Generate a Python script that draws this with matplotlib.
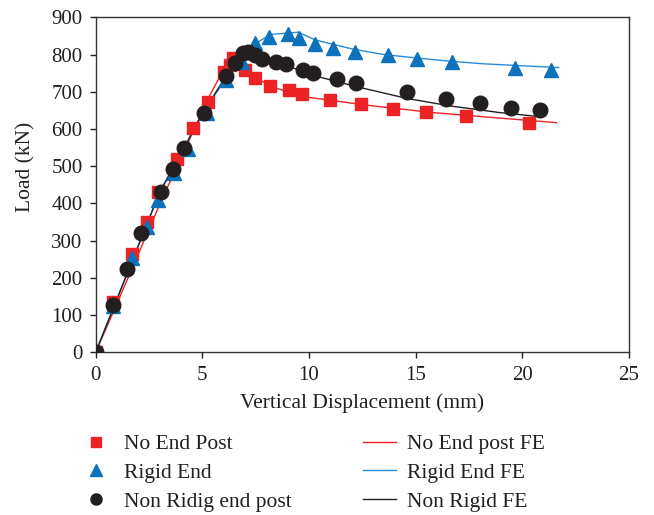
import matplotlib
matplotlib.use("Agg")
import matplotlib.pyplot as plt
from matplotlib.lines import Line2D

plt.rcParams['font.family'] = ['Liberation Serif', 'DejaVu Serif']

# Experimental data
no_end_x = [0, 0.83, 1.69, 2.39, 2.93, 3.8, 4.58, 5.28, 6.0, 6.3, 6.45, 6.6, 6.99, 7.47, 8.15, 9.08, 9.69, 10.98, 12.44, 13.95, 15.49, 17.35, 20.33]
no_end_y = [0, 136, 264, 351, 430, 518, 603, 673, 754, 772, 790, 787, 758, 736, 715, 704, 693, 678, 667, 654, 646, 635, 615]

rigid_x = [0, 0.83, 1.69, 2.39, 2.93, 3.69, 4.31, 5.2, 6.09, 6.87, 7.47, 8.14, 9.0, 9.52, 10.28, 11.14, 12.16, 13.69, 15.06, 16.69, 19.66, 21.35]
rigid_y = [0, 125, 254, 337, 409, 481, 545, 642, 732, 781, 832, 848, 855, 844, 827, 817, 808, 799, 788, 779, 763, 758]

nonrigid_x = [0, 0.83, 1.48, 2.12, 3.07, 3.64, 4.15, 5.06, 6.1, 6.52, 6.92, 7.15, 7.47, 7.78, 8.45, 8.92, 9.73, 10.2, 11.3, 12.2, 14.61, 16.41, 18.02, 19.47, 20.83]
nonrigid_y = [0, 127, 223, 320, 430, 492, 548, 643, 742, 778, 803, 808, 799, 787, 781, 775, 758, 750, 733, 723, 699, 681, 669, 657, 651]

# FE curves
no_end_fe_x = [0, 0.83, 3.09, 5.3, 6.0, 6.6, 7.0, 7.5, 8.2, 9.6, 12.7, 15.8, 19.0, 21.6]
no_end_fe_y = [0, 109, 409, 685, 760, 795, 765, 738, 715, 688, 664, 644, 629, 617]

rigid_fe_x = [0, 3.0, 5.1, 6.1, 7.0, 7.5, 8.2, 9.5, 10.3, 12.1, 13.5, 15.0, 16.6, 18.2, 21.7]
rigid_fe_y = [0, 430, 650, 735, 800, 830, 854, 860, 839, 814, 800, 791, 782, 775, 765]

nonrigid_fe_x = [0, 3.0, 5.0, 6.1, 6.5, 6.9, 7.1, 7.5, 8.5, 10.2, 12.2, 14.6, 16.6, 18.95, 20.83]
nonrigid_fe_y = [0, 430, 640, 742, 778, 800, 810, 800, 780, 744, 714, 682, 662, 644, 633]

xticks = [0, 5, 10, 15, 20, 25]
yticks = [0, 100, 200, 300, 400, 500, 600, 700, 800, 900]

RED = '#ED2224'
BLUE = '#0B72BB'
BLUE_L = '#2A8BD6'
BLACK = '#231F20'

fig = plt.figure(figsize=(6.54, 5.15), dpi=100)
ax = fig.add_axes([0.1463, 0.3159, 0.9618 - 0.1463, 0.9664 - 0.3159])

ax.plot(no_end_fe_x, no_end_fe_y, color=RED, lw=1.0, zorder=2)
ax.plot(rigid_fe_x, rigid_fe_y, color=BLUE_L, lw=1.0, zorder=2)
ax.plot(nonrigid_fe_x, nonrigid_fe_y, color=BLACK, lw=1.0, zorder=2)

ax.plot(no_end_x, no_end_y, ls='none', marker='s', ms=9, color=RED, zorder=3)
ax.plot(rigid_x, rigid_y, ls='none', marker='^', ms=10, color=BLUE, zorder=3)
ax.plot(nonrigid_x, nonrigid_y, ls='none', marker='o', ms=10.5, color=BLACK, zorder=4)

ax.set_xlim(0, 25)
ax.set_ylim(0, 900)
ax.set_xticks(xticks)
ax.set_yticks(yticks)
ax.tick_params(direction='out', length=4.5, width=1, labelsize=15, colors=BLACK, pad=5)
for s in ax.spines.values():
    s.set_linewidth(1.0)
    s.set_color('#333333')
ax.set_xlabel('Vertical Displacement (mm)', fontsize=15.5, color=BLACK, labelpad=6)
ax.set_ylabel('Load (kN)', fontsize=15.5, color=BLACK)
ax.yaxis.set_label_coords(-0.112, 0.555)

handles = [
    Line2D([], [], ls='none', marker='s', ms=7, color=RED),
    Line2D([], [], ls='none', marker='^', ms=8, color=BLUE),
    Line2D([], [], ls='none', marker='o', ms=8, color=BLACK),
    Line2D([], [], color=RED, lw=1.0),
    Line2D([], [], color=BLUE_L, lw=1.0),
    Line2D([], [], color=BLACK, lw=1.0),
]
labels = ['No End Post', 'Rigid End', 'Non Ridig end post',
          'No End post FE', 'Rigid End FE', 'Non Rigid FE']
fig.legend(handles, labels, ncol=2, loc='upper left',
           bbox_to_anchor=(0.122, 0.157),
           frameon=False, fontsize=15.5, handlelength=1.55, handletextpad=0.5,
           columnspacing=3.3, labelspacing=0.4, borderaxespad=0, borderpad=0,
           labelcolor=BLACK)

fig.savefig('out.png', dpi=100)
